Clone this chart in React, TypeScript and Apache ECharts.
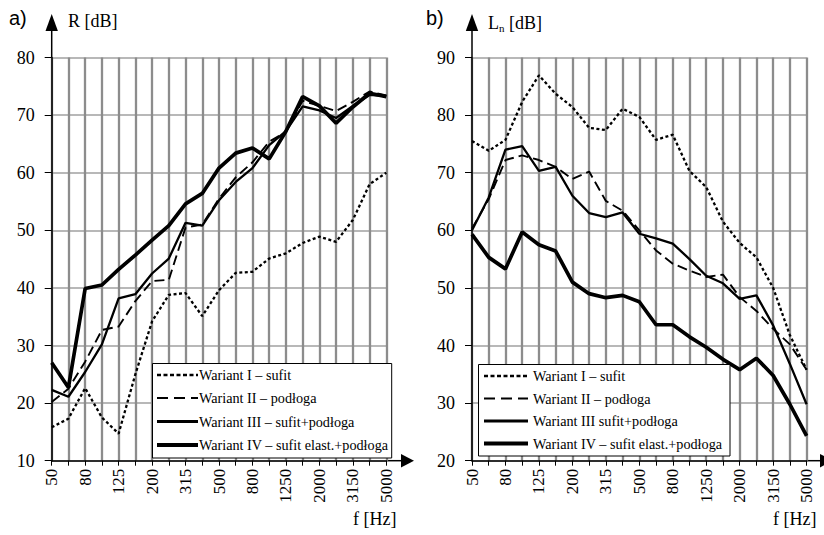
import React, { useEffect, useRef } from "react";
import * as echarts from "echarts";

const frequencies = ["50", "63", "80", "100", "125", "160", "200", "250", "315", "400", "500", "630", "800", "1000", "1250", "1600", "2000", "2500", "3150", "4000", "5000"];

// Panel a) R [dB]
const rNames = ["Wariant I – sufit", "Wariant II – podłoga", "Wariant III – sufit+podłoga", "Wariant IV – sufit elast.+podłoga"];
const rVariantI = [15.8, 17.3, 22.6, 17.5, 14.7, 25, 34.2, 38.8, 39.1, 35.1, 39.6, 42.6, 42.8, 45.1, 46, 47.8, 48.9, 48, 51.8, 58, 60];
const rVariantII = [20.2, 22.5, 27.2, 32.7, 33.3, 37.7, 41.2, 41.4, 50.5, 51, 55.5, 59.2, 61.8, 65.4, 67.1, 72.5, 71.6, 70.7, 72.3, 74.1, 73.4];
const rVariantIII = [22.3, 21.1, 25.4, 30.2, 38.2, 38.9, 42.5, 45.1, 51.3, 50.8, 55.2, 58.4, 60.8, 64.8, 67.2, 71.5, 70.8, 69.5, 71.6, 73.5, 73.3];
const rVariantIV = [27, 22.7, 39.9, 40.5, 43.2, 45.7, 48.3, 50.8, 54.6, 56.4, 60.8, 63.4, 64.3, 62.4, 67.2, 73.2, 71.6, 68.6, 71.4, 73.8, 73.2];

// Panel b) Ln [dB]
const lNames = ["Wariant I – sufit", "Wariant II – podłoga", "Wariant III sufit+podłoga", "Wariant IV – sufit elast.+podłoga"];
const lVariantI = [75.5, 73.8, 75.7, 82.3, 86.9, 83.7, 81.4, 77.8, 77.4, 81.1, 79.7, 75.7, 76.6, 70.3, 67.5, 61.5, 57.8, 55.3, 50, 41.8, 35.8];
const lVariantII = [60.3, 65.4, 72.2, 73, 72.2, 71, 68.9, 70.2, 65.1, 63.4, 60, 56.5, 54.2, 53, 51.9, 52.3, 48.4, 46, 42.9, 40.2, 35.8];
const lVariantIII = [60, 65.7, 74, 74.6, 70.3, 71, 66, 63, 62.3, 63.1, 59.4, 58.6, 57.7, 55, 52.1, 50.8, 48.1, 48.7, 43.5, 36.8, 29.8];
const lVariantIV = [59.3, 55.3, 53.3, 59.7, 57.5, 56.4, 51, 49, 48.3, 48.7, 47.6, 43.6, 43.6, 41.5, 39.7, 37.6, 35.8, 37.8, 34.8, 29.8, 24.3];

const SERIF = "Liberation Serif";
const SANS = "Liberation Sans";

const lineStyles = [
  { type: [3, 2.5], width: 2.3 },
  { type: [10, 5], width: 1.9 },
  { type: "solid", width: 2.3 },
  { type: "solid", width: 3.7 },
];
const legendDash = [[4, 2.5], [11, 6], null, null];

const GRID_TOP = 57.5;
const GRID_H = 403.2;
const GRID_W = 334.6;
const LEFT_A = 51.7;
const LEFT_B = 472;
const AXIS_Y = GRID_TOP + GRID_H;

function xAxisFor(gridIndex: number) {
  return {
    type: "category",
    gridIndex,
    data: frequencies,
    boundaryGap: false,
    axisLine: { show: true, lineStyle: { color: "#000", width: 1.5 } },
    axisTick: { show: true, interval: 0, length: 5, lineStyle: { color: "#000", width: 1 } },
    axisLabel: { interval: 1, rotate: 90, margin: 8, fontFamily: SERIF, fontSize: 17, color: "#000" },
    splitLine: { show: true, interval: 0, lineStyle: { color: "#8c8c8c", width: 2.3 } },
  };
}

function yAxisFor(gridIndex: number, min: number, max: number) {
  return {
    type: "value",
    gridIndex,
    min,
    max,
    interval: 10,
    axisLine: { show: true, lineStyle: { color: "#000", width: 1.5 } },
    axisTick: { show: true, length: 7, lineStyle: { color: "#000", width: 1 } },
    axisLabel: { margin: 17, fontFamily: SERIF, fontSize: 18, color: "#000" },
    splitLine: { show: true, lineStyle: { color: "#a0a0a0", width: 1.5 } },
  };
}

function seriesFor(names: string[], data: number[][], idx: number) {
  return names.map((name, i) => ({
    type: "line",
    name,
    xAxisIndex: idx,
    yAxisIndex: idx,
    data: data[i],
    symbol: "none",
    showSymbol: false,
    lineStyle: { color: "#000", ...lineStyles[i] },
    itemStyle: { color: "#000" },
    z: 3,
  }));
}

function axisDecor(x0: number, xEnd: number, arrowX: number) {
  return [
    { type: "line", shape: { x1: x0, y1: GRID_TOP, x2: x0, y2: 30 }, style: { stroke: "#000", lineWidth: 1.5 } },
    { type: "polygon", shape: { points: [[x0, 14], [x0 - 6.2, 31], [x0 + 6.2, 31]] }, style: { fill: "#000" } },
    { type: "line", shape: { x1: xEnd, y1: AXIS_Y, x2: arrowX + 1, y2: AXIS_Y }, style: { stroke: "#000", lineWidth: 1.5 } },
    { type: "polygon", shape: { points: [[arrowX + 13, AXIS_Y], [arrowX, AXIS_Y - 6.7], [arrowX, AXIS_Y + 6.7]] }, style: { fill: "#000" } },
  ];
}

function legendBox(names: string[], x: number, y: number, w: number, h: number, lineX1: number, lineX2: number, textX: number, rows: number[]) {
  const els: any[] = [
    { type: "rect", shape: { x, y, width: w, height: h }, style: { fill: "#fff", stroke: "#000", lineWidth: 1 }, z: 20 },
  ];
  names.forEach((name, i) => {
    els.push({
      type: "line",
      shape: { x1: lineX1, y1: rows[i], x2: lineX2, y2: rows[i] },
      style: { stroke: "#000", lineWidth: i === 3 ? 4.2 : i === 2 ? 2.8 : i === 0 ? 2.6 : 2, lineDash: legendDash[i] || undefined },
      z: 21,
    });
    els.push({
      type: "text",
      x: textX,
      y: rows[i],
      style: { text: name, fontFamily: SERIF, fontSize: 14.2, fill: "#000", verticalAlign: "middle", align: "left" },
      z: 21,
    });
  });
  return els;
}

export default function App() {
  const ref = useRef<HTMLDivElement>(null);
  useEffect(() => {
    const chart = echarts.init(ref.current!, null, { renderer: "svg" });
    chart.setOption({
      animation: false,
      backgroundColor: "#fff",
      grid: [
        { left: LEFT_A, top: GRID_TOP, width: GRID_W, height: GRID_H },
        { left: LEFT_B, top: GRID_TOP, width: GRID_W, height: GRID_H },
      ],
      xAxis: [xAxisFor(0), xAxisFor(1)],
      yAxis: [yAxisFor(0, 10, 80), yAxisFor(1, 20, 90)],
      series: [
        ...seriesFor(rNames, [rVariantI, rVariantII, rVariantIII, rVariantIV], 0),
        ...seriesFor(lNames, [lVariantI, lVariantII, lVariantIII, lVariantIV], 1),
      ],
      graphic: [
        ...axisDecor(LEFT_A, LEFT_A + GRID_W, 401),
        ...axisDecor(LEFT_B, LEFT_B + GRID_W, 820),
        ...legendBox(rNames, 152.5, 363.5, 239.2, 94.5, 157, 198, 199, [375, 398, 421.5, 445]),
        ...legendBox(lNames, 478.5, 364.5, 251.5, 91.5, 484, 528, 533, [376, 398.5, 421, 443.5]),
        { type: "text", x: 9, y: 8, style: { text: "a)", fontFamily: SANS, fontSize: 20, fill: "#000" } },
        { type: "text", x: 426, y: 8, style: { text: "b)", fontFamily: SANS, fontSize: 20, fill: "#000" } },
        { type: "text", x: 68, y: 12, style: { text: "R [dB]", fontFamily: SERIF, fontSize: 18, fill: "#000" } },
        {
          type: "text",
          x: 488,
          y: 12,
          style: {
            text: "{a|L}{s|n}{a| [dB]}",
            rich: {
              a: { fontFamily: SERIF, fontSize: 18, color: "#000" },
              s: { fontFamily: SERIF, fontSize: 11, color: "#000", padding: [10, 0, 0, 0] },
            },
          },
        },
        { type: "text", x: 353, y: 510, style: { text: "f [Hz]", fontFamily: SERIF, fontSize: 18, fill: "#000" } },
        { type: "text", x: 773, y: 510, style: { text: "f [Hz]", fontFamily: SERIF, fontSize: 18, fill: "#000" } },
      ],
    });
    return () => chart.dispose();
  }, []);
  return <div ref={ref} style={{ position: "fixed", left: 0, top: 0, width: 824, height: 535, background: "#fff" }} />;
}
